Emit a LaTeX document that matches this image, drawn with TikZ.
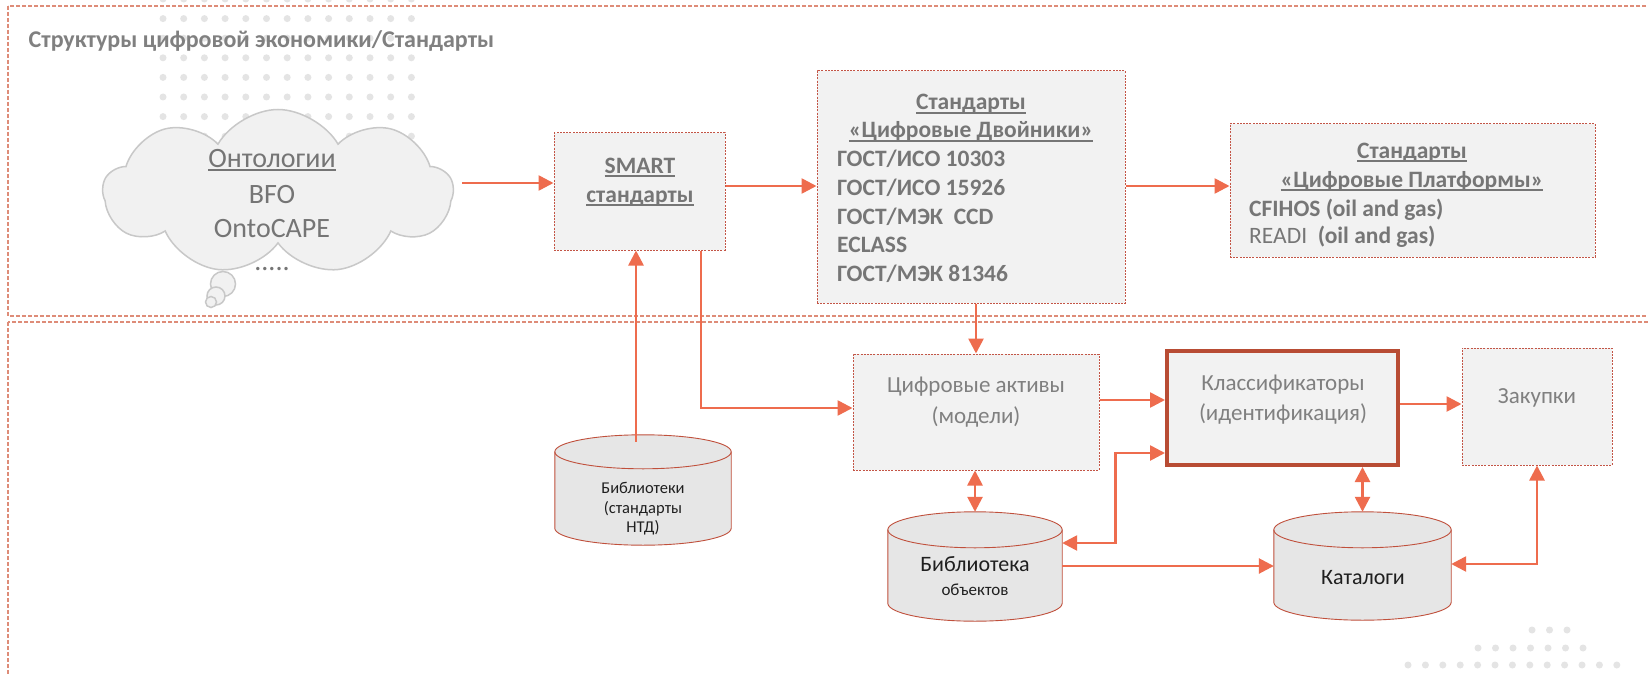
\documentclass[tikz,border=0pt]{standalone}
\usepackage{fontspec}
\setmainfont{Carlito}
\usetikzlibrary{arrows.meta,shapes.symbols,calc}
\definecolor{arrc}{RGB}{238,108,78}
\definecolor{boxb}{RGB}{195,85,70}
\definecolor{framec}{RGB}{222,140,120}
\definecolor{boxf}{RGB}{242,242,242}
\definecolor{cylf}{RGB}{230,230,230}
\definecolor{cylb}{RGB}{192,80,60}
\definecolor{klb}{RGB}{184,76,52}
\definecolor{txtg}{RGB}{118,118,118}
\definecolor{txtl}{RGB}{128,128,128}
\definecolor{dotc}{RGB}{228,228,228}
\definecolor{cloudb}{RGB}{200,200,200}
\definecolor{cloudf}{RGB}{241,241,241}
\definecolor{cloudt}{RGB}{117,117,117}
\newsavebox\myulbox
\newcommand\myul[1]{\leavevmode\sbox\myulbox{#1}\rlap{\rule[-3.6pt]{\wd\myulbox}{1.2pt}}\usebox\myulbox}
\tikzset{
  frame/.style={draw=framec, line width=1.3pt, dash pattern=on 4pt off 2pt},
  stdbox/.style={rectangle, draw=boxb, fill=boxf, line width=1pt, dash pattern=on 2pt off 1.2pt, inner sep=0pt},
  klbox/.style={rectangle, draw=klb, fill=boxf, line width=4pt, inner sep=0pt},
  cylnode/.style={rectangle, inner sep=0pt},
  cylshape/.style={draw=cylb, fill=cylf, line width=0.9pt},
  cloudsty/.style={draw=cloudb, fill=cloudf, line width=1.5pt},
  tip/.tip={Triangle[length=15pt,width=15pt]},
  conn/.style={draw=arrc, line width=2.6pt, -tip},
  conn2/.style={draw=arrc, line width=2.6pt, tip-tip},
  hd/.style={text=txtg, font=\fontsize{23.5}{28}\selectfont\bfseries, inner sep=0pt, anchor=base},
  li/.style={hd, anchor=base west},
  rg/.style={text=txtl, font=\fontsize{23}{28}\selectfont, inner sep=0pt, anchor=base},
  cl/.style={text=cloudt, font=\fontsize{28}{34}\selectfont, inner sep=0pt, anchor=base},
  cy/.style={text=black!88, inner sep=0pt, anchor=base},
}
\newcommand\drawcyl[2]{%
  \filldraw[cylshape] let \p1=(#1.north west), \p2=(#1.south east), \n1={(\x2-\x1)/2} in
    (\x1,\y1-#2pt) -- (\x1,\y2+#2pt) arc[start angle=180,end angle=360,x radius=\n1,y radius=#2pt]
    -- (\x2,\y1-#2pt) arc[start angle=0,end angle=180,x radius=\n1,y radius=#2pt] -- cycle;
  \draw[cylshape,fill=none] let \p1=(#1.north west), \p2=(#1.south east), \n1={(\x2-\x1)/2} in
    (\x1,\y1-#2pt) arc[start angle=180,end angle=360,x radius=\n1,y radius=#2pt];
}
\begin{document}
\begin{tikzpicture}[x=1pt,y=1pt]
\useasboundingbox (0,0) rectangle (1648,-674);
\fill[white] (0,0) rectangle (1648,-674);
% decorative dots
\foreach \i in {0,...,12}
  \foreach \j in {0,...,7}
    \fill[dotc] (163+20.7*\i, 1-19.6*\j) circle (3.5pt);
\foreach \xx in {1532,1549.5,1567} \fill[dotc] (\xx,-630) circle (3.5pt);
\foreach \k in {0,...,6} \fill[dotc] (1478+17.5*\k,-648) circle (3.5pt);
\foreach \k in {0,...,12} \fill[dotc] (1408+17.4*\k,-665) circle (3.5pt);
% frames
\draw[frame] (8,-6) rectangle (1660,-316);
\draw[frame] (8,-322) rectangle (1660,-690);
\node[anchor=base west, inner sep=0pt, text=txtl, font=\fontsize{24}{28}\selectfont\bfseries] (title) at (28.5,-48) {Структуры цифровой экономики/Стандарты};
% cloud
\node[cloud, cloud puffs=9, cloud puff arc=120, aspect=2.1, minimum width=350pt, minimum height=165pt, cloudsty] (onto) at (278,-192) {};
\filldraw[cloudsty] (223,-284) circle (12.5pt);
\filldraw[cloudsty] (216,-296) circle (9pt);
\filldraw[cloudsty] (211,-302) circle (5.5pt);
\node[cl] (ot1) at (272,-167) {\myul{Онтологии}};
\node[cl] (ot2) at (272,-203) {BFO};
\node[cl] (ot3) at (272,-237) {OntoCAPE};
\node[cl] (ot4) at (272,-270) {.....};
% boxes
\node[stdbox, minimum width=171pt, minimum height=117pt] (smart) at (639.5,-191.5) {};
\node[hd] (sm1) at (640,-173) {\myul{SMART}};
\node[hd] (sm2) at (640,-202) {\myul{стандарты}};
\node[stdbox, minimum width=308pt, minimum height=232pt] (dt) at (971,-187) {};
\node[hd] (dth1) at (971,-110) {\myul{Стандарты}};
\node[hd] (dth2) at (971,-138) {\myul{«Цифровые Двойники»}};
\node[li] (dl1) at (837,-166) {ГОСТ/ИСО 10303};
\node[li] (dl2) at (837,-195) {ГОСТ/ИСО 15926};
\node[li] (dl3) at (837,-224) {ГОСТ/МЭК~~CCD};
\node[li] (dl4) at (837,-252) {ECLASS};
\node[li] (dl5) at (837,-281) {ГОСТ/МЭК 81346};
\node[stdbox, minimum width=365pt, minimum height=133pt] (plat) at (1412.5,-190.5) {};
\node[hd] (ph1) at (1412,-158) {\myul{Стандарты}};
\node[hd] (ph2) at (1412,-187) {\myul{«Цифровые Платформы»}};
\node[li] (pl1) at (1249,-216) {CFIHOS (oil and gas)};
\node[li] (pl2) at (1249,-243) {{\mdseries READI}~~(oil and gas)};
\node[stdbox, minimum width=246pt, minimum height=116pt] (act) at (976,-412) {};
\node[rg] (at1) at (976,-392) {Цифровые активы};
\node[rg] (at2) at (976,-423) {(модели)};
\node[klbox, minimum width=231pt, minimum height=114pt] (kl) at (1282.5,-408) {};
\node[rg] (kt1) at (1283,-390) {Классификаторы};
\node[rg] (kt2) at (1283,-420) {(идентификация)};
\node[stdbox, minimum width=150pt, minimum height=117pt] (zak) at (1537,-406.5) {};
\node[rg] (zt) at (1537,-403) {Закупки};
% cylinders
\node[cylnode, minimum width=176pt, minimum height=110pt] (libs) at (643,-490) {};
\drawcyl{libs}{17}
\node[cy, font=\fontsize{16.5}{20}\selectfont] (lt1) at (643,-493) {Библиотеки};
\node[cy, font=\fontsize{16.5}{20}\selectfont] (lt2) at (643,-513) {(стандарты};
\node[cy, font=\fontsize{16.5}{20}\selectfont] (lt3) at (643,-532) {НТД)};
\node[cylnode, minimum width=174pt, minimum height=109pt] (lobj) at (975,-566.5) {};
\drawcyl{lobj}{18}
\node[cy, font=\fontsize{22}{26}\selectfont] (ob1) at (975,-571) {Библиотека};
\node[cy, font=\fontsize{17}{20}\selectfont] (ob2) at (975,-595) {объектов};
\node[cylnode, minimum width=177pt, minimum height=108pt] (kat) at (1362.5,-566) {};
\drawcyl{kat}{18}
\node[cy, font=\fontsize{22}{26}\selectfont] (ka) at (1363,-584) {Каталоги};
% connectors
\coordinate (cloudout) at (462,-183);
\draw[conn] (cloudout) -- (cloudout -| smart.west);
\draw[conn] ([yshift=5.5pt]smart.east) -- ([yshift=5.5pt]smart.east -| dt.west);
\draw[conn] ([yshift=1pt]dt.east) -- ([yshift=1pt]dt.east -| plat.west);
\draw[conn] (act.north |- dt.south) -- (act.north);
\draw[conn] ([xshift=-7pt,yshift=-7pt]libs.north) -- ([xshift=-7pt]libs.north |- smart.south);
\draw[conn] ([xshift=61.5pt]smart.south) |- ([yshift=4pt]act.west);
\draw[conn] ([yshift=12pt]act.east) -- ([yshift=12pt]act.east -| kl.west);
\draw[conn] ([yshift=4pt]kl.east) -- ([yshift=4pt]kl.east -| zak.west);
\draw[conn2] (lobj.north |- act.south) -- (lobj.north);
\draw[conn2] (kat.north |- kl.south) -- (kat.north);
\draw[conn2] ([yshift=23.5pt]lobj.east) -- ++(53,0) |- ([yshift=-45pt]kl.west);
\draw[conn] ([yshift=0.5pt]lobj.east) -- ([yshift=0.5pt]lobj.east -| kat.west);
\draw[conn2] (zak.south) |- ([yshift=2pt]kat.east);
\end{tikzpicture}
\end{document}
